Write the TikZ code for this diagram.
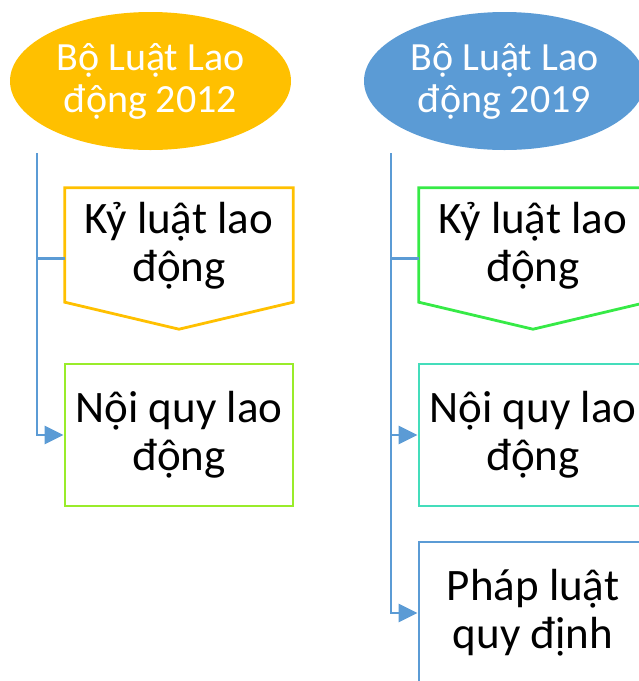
\documentclass[tikz,border=0pt]{standalone}
\usepackage{fontspec}
\setmainfont{Carlito}
\usetikzlibrary{arrows.meta,shapes.geometric,calc}

\definecolor{lawyellow}{HTML}{FFC000}
\definecolor{lawblue}{HTML}{5B9BD5}
\definecolor{limeline}{HTML}{99EC2A}
\definecolor{greenline}{HTML}{36EA46}
\definecolor{tealline}{HTML}{44DDBB}

\tikzset{
  lawhead/.style={ellipse, inner sep=0pt, minimum width=281pt, minimum height=138pt,
    text=white, align=center, font=\fontsize{40pt}{42pt}\selectfont},
  boxtext/.style={align=center, inner sep=0pt, font=\fontsize{45pt}{48pt}\selectfont},
  plainbox/.style={boxtext, rectangle, draw, line width=2.8pt, minimum width=228pt, minimum height=142pt},
  penta/.style={rectangle, inner sep=0pt, minimum width=228pt, minimum height=141pt},
  pentaline/.style={line width=2.8pt, line join=miter},
  trunk/.style={draw=lawblue, line width=2.8pt},
  branch/.style={trunk, -{Triangle[length=19pt,width=18pt]}},
}

\begin{document}
\begin{tikzpicture}[x=1pt,y=1pt]
\useasboundingbox (0,0) rectangle (639,-681);

% headings
\node[lawhead, fill=lawyellow] (h1) at (150.5,-81) {Bộ Luật Lao\\động 2012};
\node[lawhead, fill=lawblue] (h2) at (504.5,-81) {Bộ Luật Lao\\động 2019};

% left column
\node[penta] (k1) at (179,-258.5) {};
\draw[pentaline, draw=lawyellow] (k1.north west) -- (k1.north east)
  -- ($(k1.south east)+(0,27)$) -- (k1.south) -- ($(k1.south west)+(0,27)$) -- cycle;
\node[boxtext] (k1t) at ($(k1.center)+(0,13)$) {Kỷ luật lao\\động};
\node[plainbox, draw=limeline] (n1) at (179,-435) {Nội quy lao\\động};

% right column
\node[penta] (k2) at (533,-258.5) {};
\draw[pentaline, draw=greenline] (k2.north west) -- (k2.north east)
  -- ($(k2.south east)+(0,27)$) -- (k2.south) -- ($(k2.south west)+(0,27)$) -- cycle;
\node[boxtext] (k2t) at ($(k2.center)+(0,13)$) {Kỷ luật lao\\động};
\node[plainbox, draw=tealline] (n2) at (533,-435) {Nội quy lao\\động};
\node[plainbox, draw=lawblue] (p2) at (533,-613) {Pháp luật\\quy định};

% connectors
\coordinate (s1) at (37,-153);
\coordinate (s2) at (391,-153);
\draw[trunk] (s1) |- (k1.west);
\draw[branch] (s1) |- (n1.west);
\draw[trunk] (s2) |- (k2.west);
\draw[branch] (s2) |- (n2.west);
\draw[branch] (s2) |- (p2.west);
\end{tikzpicture}
\end{document}
